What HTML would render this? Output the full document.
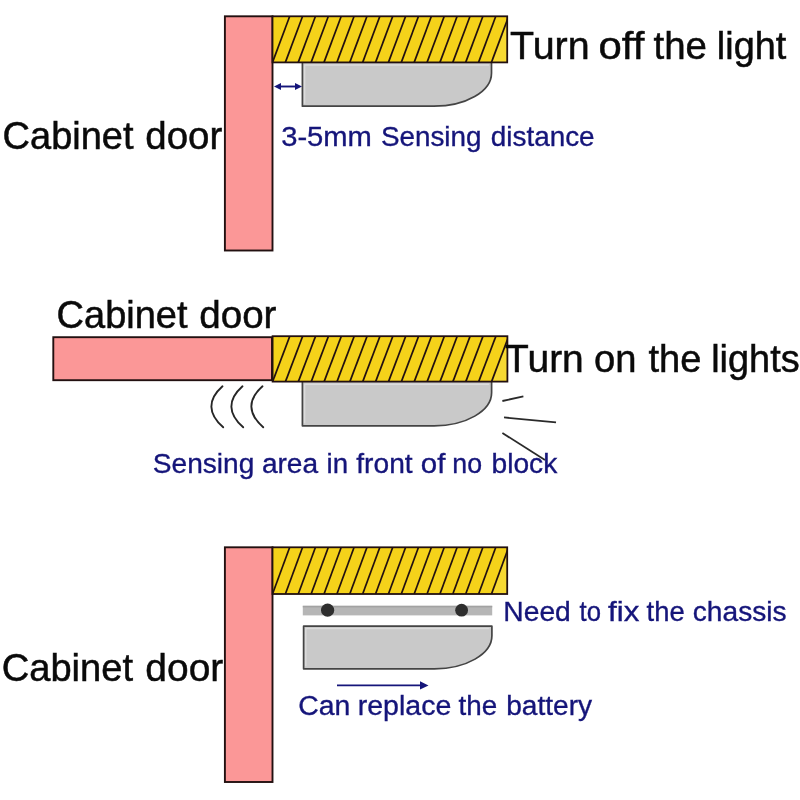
<!DOCTYPE html>
<html lang="en">
<head>
<meta charset="utf-8">
<title>Cabinet light sensor diagram</title>
<style>
html,body{margin:0;padding:0;background:#fff;}
body{width:800px;height:800px;overflow:hidden;}
svg{display:block;will-change:transform;}
svg text{font-family:"Liberation Sans",Arial,Helvetica,sans-serif;}
</style>
</head>
<body>
<svg width="800" height="800" viewBox="0 0 800 800">
<rect x="0" y="0" width="800" height="800" fill="#ffffff"/>
<rect x="224.9" y="16.3" width="47.6" height="234.2" fill="#fb9797" stroke="#221010" stroke-width="1.9"/>
<path d="M302.4,62.6 L302.4,106.2 L434.0,106.2 A57.5,33 0 0 0 491.5,73.2 L491.5,62.6 Z" fill="#c9c9c9"/><path d="M304.6,103.7 L304.6,65.0 L489.0,65.0" fill="none" stroke="#dcdcdc" stroke-width="1.4"/><path d="M302.4,62.6 L302.4,106.2 L434.0,106.2 A57.5,33 0 0 0 491.5,73.2 L491.5,62.6" fill="none" stroke="#444444" stroke-width="1.7" stroke-linejoin="round"/>
<clipPath id="c1"><rect x="272.5" y="16.3" width="234.7" height="46.1"/></clipPath>
<rect x="272.5" y="16.3" width="234.7" height="46.1" fill="#f5d21a"/>
<polygon points="492.46,62.4 509.66,16.3 507.2,16.3 507.2,62.4" fill="#f7d932" clip-path="url(#c1)"/>
<g stroke="#221010" stroke-width="1.7" clip-path="url(#c1)">
<line x1="272.50" y1="62.40" x2="289.70" y2="16.30"/>
<line x1="285.38" y1="62.40" x2="302.58" y2="16.30"/>
<line x1="298.26" y1="62.40" x2="315.46" y2="16.30"/>
<line x1="311.14" y1="62.40" x2="328.34" y2="16.30"/>
<line x1="324.02" y1="62.40" x2="341.22" y2="16.30"/>
<line x1="336.90" y1="62.40" x2="354.10" y2="16.30"/>
<line x1="349.78" y1="62.40" x2="366.98" y2="16.30"/>
<line x1="362.66" y1="62.40" x2="379.86" y2="16.30"/>
<line x1="375.54" y1="62.40" x2="392.74" y2="16.30"/>
<line x1="388.42" y1="62.40" x2="405.62" y2="16.30"/>
<line x1="401.30" y1="62.40" x2="418.50" y2="16.30"/>
<line x1="414.18" y1="62.40" x2="431.38" y2="16.30"/>
<line x1="427.06" y1="62.40" x2="444.26" y2="16.30"/>
<line x1="439.94" y1="62.40" x2="457.14" y2="16.30"/>
<line x1="452.82" y1="62.40" x2="470.02" y2="16.30"/>
<line x1="465.70" y1="62.40" x2="482.90" y2="16.30"/>
<line x1="478.58" y1="62.40" x2="495.78" y2="16.30"/>
<line x1="491.46" y1="62.40" x2="508.66" y2="16.30"/>
</g>
<rect x="272.5" y="16.3" width="234.7" height="46.1" fill="none" stroke="#221010" stroke-width="1.8"/>
<g fill="#15157a" stroke="#15157a"><line x1="278" y1="86.5" x2="298" y2="86.5" stroke-width="1.9"/><polygon points="274,86.5 281,83.1 281,89.9" stroke="none"/><polygon points="302,86.5 295,83.1 295,89.9" stroke="none"/></g>
<text y="148.9" font-size="38.3" fill="#0a0a0a" stroke="#0a0a0a" stroke-width="0.5"><tspan x="2.57" textLength="131.01" lengthAdjust="spacingAndGlyphs">Cabinet</tspan> <tspan x="145.29" textLength="76.95" lengthAdjust="spacingAndGlyphs">door</tspan></text>
<text y="58.8" font-size="38.5" fill="#0a0a0a" stroke="#0a0a0a" stroke-width="0.5"><tspan x="510.03" textLength="79.58" lengthAdjust="spacingAndGlyphs">Turn</tspan> <tspan x="598.57" textLength="45.77" lengthAdjust="spacingAndGlyphs">off</tspan> <tspan x="653.52" textLength="53.49" lengthAdjust="spacingAndGlyphs">the</tspan> <tspan x="716.85" textLength="69.43" lengthAdjust="spacingAndGlyphs">light</tspan></text>
<text y="146" font-size="28.5" fill="#15157a" stroke="#15157a" stroke-width="0.35"><tspan x="281.19" textLength="90.73" lengthAdjust="spacingAndGlyphs">3-5mm</tspan> <tspan x="380.94" textLength="100.56" lengthAdjust="spacingAndGlyphs">Sensing</tspan> <tspan x="490.73" textLength="103.91" lengthAdjust="spacingAndGlyphs">distance</tspan></text>
<rect x="53.3" y="337.2" width="218.7" height="43" fill="#fb9797" stroke="#221010" stroke-width="1.9"/>
<path d="M302.4,381.8 L302.4,425.8 L434.1,425.8 A57.5,33 0 0 0 491.6,392.8 L491.6,381.8 Z" fill="#c9c9c9"/><path d="M304.6,423.3 L304.6,384.2 L489.1,384.2" fill="none" stroke="#dcdcdc" stroke-width="1.4"/><path d="M302.4,381.8 L302.4,425.8 L434.1,425.8 A57.5,33 0 0 0 491.6,392.8 L491.6,381.8" fill="none" stroke="#444444" stroke-width="1.7" stroke-linejoin="round"/>
<clipPath id="c2"><rect x="272.6" y="336.2" width="234.8" height="45.4"/></clipPath>
<rect x="272.6" y="336.2" width="234.8" height="45.4" fill="#f5d21a"/>
<polygon points="492.56,381.6 509.76,336.2 507.4,336.2 507.4,381.6" fill="#f7d932" clip-path="url(#c2)"/>
<g stroke="#221010" stroke-width="1.7" clip-path="url(#c2)">
<line x1="272.60" y1="381.60" x2="289.80" y2="336.20"/>
<line x1="285.48" y1="381.60" x2="302.68" y2="336.20"/>
<line x1="298.36" y1="381.60" x2="315.56" y2="336.20"/>
<line x1="311.24" y1="381.60" x2="328.44" y2="336.20"/>
<line x1="324.12" y1="381.60" x2="341.32" y2="336.20"/>
<line x1="337.00" y1="381.60" x2="354.20" y2="336.20"/>
<line x1="349.88" y1="381.60" x2="367.08" y2="336.20"/>
<line x1="362.76" y1="381.60" x2="379.96" y2="336.20"/>
<line x1="375.64" y1="381.60" x2="392.84" y2="336.20"/>
<line x1="388.52" y1="381.60" x2="405.72" y2="336.20"/>
<line x1="401.40" y1="381.60" x2="418.60" y2="336.20"/>
<line x1="414.28" y1="381.60" x2="431.48" y2="336.20"/>
<line x1="427.16" y1="381.60" x2="444.36" y2="336.20"/>
<line x1="440.04" y1="381.60" x2="457.24" y2="336.20"/>
<line x1="452.92" y1="381.60" x2="470.12" y2="336.20"/>
<line x1="465.80" y1="381.60" x2="483.00" y2="336.20"/>
<line x1="478.68" y1="381.60" x2="495.88" y2="336.20"/>
<line x1="491.56" y1="381.60" x2="508.76" y2="336.20"/>
</g>
<rect x="272.6" y="336.2" width="234.8" height="45.4" fill="none" stroke="#221010" stroke-width="1.8"/>
<path d="M222.5,386.3 Q199.9,406.5 223.2,427.3" fill="none" stroke="#262626" stroke-width="1.9" stroke-linecap="round"/>
<path d="M242.5,386.3 Q219.9,406.5 243.2,427.3" fill="none" stroke="#262626" stroke-width="1.9" stroke-linecap="round"/>
<path d="M262.5,386.3 Q239.9,406.5 263.2,427.3" fill="none" stroke="#262626" stroke-width="1.9" stroke-linecap="round"/>
<g stroke="#2a2a2a" stroke-width="1.8"><line x1="502.4" y1="401" x2="523.4" y2="396.4"/><line x1="504" y1="417.4" x2="556" y2="422.4"/><line x1="502.4" y1="433" x2="545" y2="460"/></g>
<text y="328.3" font-size="38.3" fill="#0a0a0a" stroke="#0a0a0a" stroke-width="0.5"><tspan x="56.57" textLength="131.01" lengthAdjust="spacingAndGlyphs">Cabinet</tspan> <tspan x="199.28" textLength="77.16" lengthAdjust="spacingAndGlyphs">door</tspan></text>
<text y="371.7" font-size="38.5" fill="#0a0a0a" stroke="#0a0a0a" stroke-width="0.5"><tspan x="505.14" textLength="78.64" lengthAdjust="spacingAndGlyphs">Turn</tspan> <tspan x="594.00" textLength="42.48" lengthAdjust="spacingAndGlyphs">on</tspan> <tspan x="648.42" textLength="52.97" lengthAdjust="spacingAndGlyphs">the</tspan> <tspan x="711.20" textLength="88.47" lengthAdjust="spacingAndGlyphs">lights</tspan></text>
<text y="473" font-size="28.4" fill="#15157a" stroke="#15157a" stroke-width="0.35"><tspan x="152.82" textLength="101.49" lengthAdjust="spacingAndGlyphs">Sensing</tspan> <tspan x="261.91" textLength="56.19" lengthAdjust="spacingAndGlyphs">area</tspan> <tspan x="326.55" textLength="21.55" lengthAdjust="spacingAndGlyphs">in</tspan> <tspan x="356.30" textLength="56.30" lengthAdjust="spacingAndGlyphs">front</tspan> <tspan x="420.76" textLength="24.60" lengthAdjust="spacingAndGlyphs">of</tspan> <tspan x="452.32" textLength="29.80" lengthAdjust="spacingAndGlyphs">no</tspan> <tspan x="491.48" textLength="65.77" lengthAdjust="spacingAndGlyphs">block</tspan></text>
<rect x="224.9" y="547.3" width="47.6" height="234.7" fill="#fb9797" stroke="#221010" stroke-width="1.9"/>
<clipPath id="c3"><rect x="272.5" y="547.3" width="234.7" height="46.7"/></clipPath>
<rect x="272.5" y="547.3" width="234.7" height="46.7" fill="#f5d21a"/>
<polygon points="492.46,594 509.66,547.3 507.2,547.3 507.2,594" fill="#f7d932" clip-path="url(#c3)"/>
<g stroke="#221010" stroke-width="1.7" clip-path="url(#c3)">
<line x1="272.50" y1="594.00" x2="289.70" y2="547.30"/>
<line x1="285.38" y1="594.00" x2="302.58" y2="547.30"/>
<line x1="298.26" y1="594.00" x2="315.46" y2="547.30"/>
<line x1="311.14" y1="594.00" x2="328.34" y2="547.30"/>
<line x1="324.02" y1="594.00" x2="341.22" y2="547.30"/>
<line x1="336.90" y1="594.00" x2="354.10" y2="547.30"/>
<line x1="349.78" y1="594.00" x2="366.98" y2="547.30"/>
<line x1="362.66" y1="594.00" x2="379.86" y2="547.30"/>
<line x1="375.54" y1="594.00" x2="392.74" y2="547.30"/>
<line x1="388.42" y1="594.00" x2="405.62" y2="547.30"/>
<line x1="401.30" y1="594.00" x2="418.50" y2="547.30"/>
<line x1="414.18" y1="594.00" x2="431.38" y2="547.30"/>
<line x1="427.06" y1="594.00" x2="444.26" y2="547.30"/>
<line x1="439.94" y1="594.00" x2="457.14" y2="547.30"/>
<line x1="452.82" y1="594.00" x2="470.02" y2="547.30"/>
<line x1="465.70" y1="594.00" x2="482.90" y2="547.30"/>
<line x1="478.58" y1="594.00" x2="495.78" y2="547.30"/>
<line x1="491.46" y1="594.00" x2="508.66" y2="547.30"/>
</g>
<rect x="272.5" y="547.3" width="234.7" height="46.7" fill="none" stroke="#221010" stroke-width="1.8"/>
<rect x="302.8" y="605.8" width="189.4" height="9.6" fill="#b6b6b6"/><rect x="302.8" y="605.8" width="189.4" height="1.6" fill="#a2a2a2"/>
<circle cx="327.6" cy="610.2" r="6.6" fill="#2e2e2e"/><circle cx="461.6" cy="610.2" r="6.4" fill="#2e2e2e"/>
<path d="M303.6,626.2 L303.6,668.8 L434.4,668.8 A57.5,33 0 0 0 491.9,635.8 L491.9,626.2 Z" fill="#c9c9c9"/><path d="M305.8,666.3 L305.8,628.6 L489.4,628.6" fill="none" stroke="#dcdcdc" stroke-width="1.4"/><path d="M303.6,626.2 L303.6,668.8 L434.4,668.8 A57.5,33 0 0 0 491.9,635.8 L491.9,626.2 Z" fill="none" stroke="#444444" stroke-width="1.7" stroke-linejoin="round"/>
<g fill="#15157a" stroke="#15157a"><line x1="337" y1="685.4" x2="422" y2="685.4" stroke-width="1.8"/><polygon points="428.5,685.4 420,681.2 420,689.6" stroke="none"/></g>
<text y="680.9" font-size="38.3" fill="#0a0a0a" stroke="#0a0a0a" stroke-width="0.5"><tspan x="1.66" textLength="131.42" lengthAdjust="spacingAndGlyphs">Cabinet</tspan> <tspan x="145.37" textLength="77.88" lengthAdjust="spacingAndGlyphs">door</tspan></text>
<text y="621" font-size="28" fill="#15157a" stroke="#15157a" stroke-width="0.35"><tspan x="503.28" textLength="67.54" lengthAdjust="spacingAndGlyphs">Need</tspan> <tspan x="579.61" textLength="21.47" lengthAdjust="spacingAndGlyphs">to</tspan> <tspan x="608.06" textLength="31.28" lengthAdjust="spacingAndGlyphs">fix</tspan> <tspan x="646.58" textLength="38.13" lengthAdjust="spacingAndGlyphs">the</tspan> <tspan x="692.80" textLength="93.81" lengthAdjust="spacingAndGlyphs">chassis</tspan></text>
<text y="715" font-size="28.4" fill="#15157a" stroke="#15157a" stroke-width="0.35"><tspan x="298.16" textLength="52.09" lengthAdjust="spacingAndGlyphs">Can</tspan> <tspan x="357.71" textLength="93.56" lengthAdjust="spacingAndGlyphs">replace</tspan> <tspan x="458.58" textLength="38.66" lengthAdjust="spacingAndGlyphs">the</tspan> <tspan x="506.19" textLength="85.87" lengthAdjust="spacingAndGlyphs">battery</tspan></text>
</svg>
</body>
</html>
